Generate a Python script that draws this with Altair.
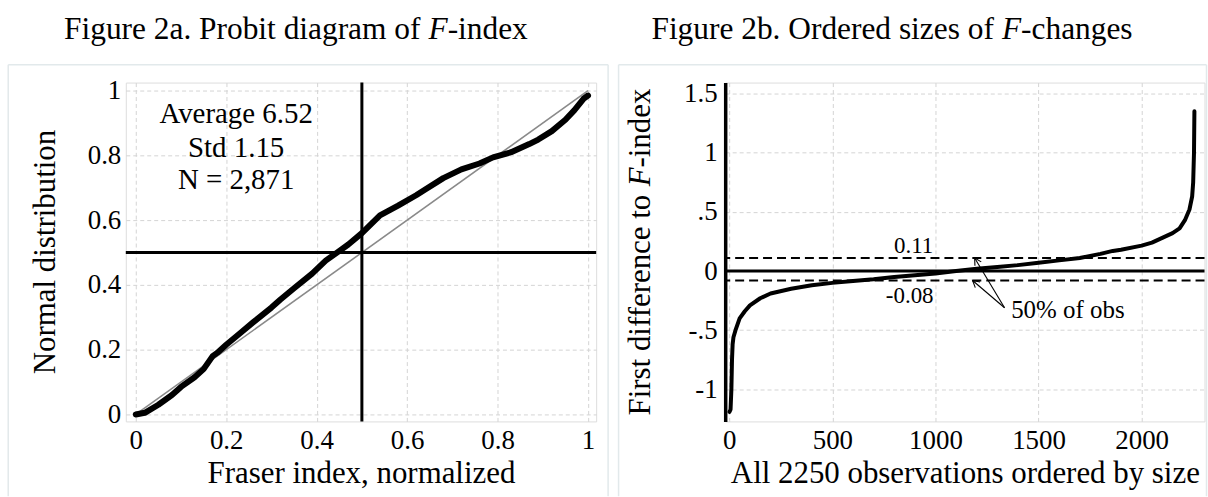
import math
import altair as alt
import pandas as pd

FONT = "Liberation Serif"

# ---------------- data: left panel (probit diagram) ----------------
probit_x = [0.0, 0.02, 0.05, 0.08, 0.10, 0.13, 0.15, 0.17, 0.18, 0.20, 0.23, 0.26, 0.30,
            0.32, 0.35, 0.39, 0.42, 0.445, 0.47, 0.50, 0.54, 0.58, 0.62, 0.64, 0.68,
            0.72, 0.76, 0.79, 0.83, 0.87, 0.89, 0.92, 0.95, 0.97, 0.99, 1.0]
probit_y = [0.0, 0.005, 0.03, 0.06, 0.085, 0.115, 0.14, 0.18, 0.19, 0.215, 0.25, 0.285, 0.33,
            0.355, 0.39, 0.435, 0.475, 0.50, 0.525, 0.56, 0.615, 0.645, 0.677, 0.695, 0.73,
            0.757, 0.775, 0.794, 0.81, 0.835, 0.849, 0.875, 0.91, 0.94, 0.975, 0.985]
diag_x = [0.0, 1.0]
diag_y = [0.0, 1.0]
left_ticks = [0, 0.2, 0.4, 0.6, 0.8, 1]
stats_text = ["Average 6.52", "Std 1.15", "N = 2,871"]
stats_x = [0.222, 0.222, 0.222]
stats_y = [0.928, 0.823, 0.723]
left_ref = [0.5]

# ---------------- data: right panel (ordered F-changes) ----------------
obs_rank = [1, 6, 10, 13, 16, 20, 30, 50, 75, 100, 150, 200, 300, 400, 500, 600, 700, 800,
            900, 1000, 1100, 1200, 1300, 1400, 1500, 1600, 1700, 1800, 1860, 1900, 2000,
            2050, 2100, 2150, 2184, 2210, 2232, 2245, 2250, 2254, 2256]
fdiff = [-1.19, -1.17, -1.0, -0.75, -0.62, -0.56, -0.50, -0.40, -0.34, -0.29, -0.23, -0.19,
         -0.15, -0.12, -0.10, -0.085, -0.07, -0.05, -0.035, -0.02, 0.0, 0.02, 0.035, 0.05,
         0.07, 0.09, 0.11, 0.145, 0.17, 0.18, 0.215, 0.24, 0.28, 0.32, 0.36, 0.43, 0.52,
         0.63, 0.75, 1.0, 1.35]
right_xticks = [0, 500, 1000, 1500, 2000]
right_yticks = [-1, -0.5, 0, 0.5, 1, 1.5]
zero_line = [0.0]
quartile_lines = [0.11, -0.08]
quart_text = ["0.11", "-0.08"]
quart_text_x = [894, 875]
quart_text_y = [0.21, -0.21]
obs_text = ["50% of obs"]
obs_text_x = [1367]
obs_text_y = [-0.33]
arrow_tail_x = [1335, 1335]
arrow_tail_y = [-0.31, -0.31]
arrow_tip_x = [1190, 1180]
arrow_tip_y = [0.11, -0.08]

# ---------------- layout ----------------
W1, W2, H = 472, 481, 340
LX_DOM, LY_DOM = [-0.022, 1.018], [-0.0215, 1.025]
RX_DOM, RY_DOM = [-20, 2305], [-1.271, 1.593]
FRAME = "#e2e9eb"

# Times/Liberation Serif advance widths (per 1000 em) for title piece placement
TNR = {'F': 556, 'i': 278, 'g': 500, 'u': 500, 'r': 333, 'e': 444, ' ': 250, '2': 500,
       'a': 444, '.': 250, 'P': 556, 'o': 500, 'b': 500, 't': 278, 'd': 500, 'm': 778,
       'f': 333, 'O': 722, 's': 389, 'z': 444, 'c': 444, 'n': 500, 'h': 500, '-': 333,
       'x': 500, 'l': 278}
F_ITALIC = 611


def tw(s, fs):
    return sum(TNR[c] for c in s) / 1000.0 * fs


one = pd.DataFrame({"k": [0]})


def txt(text, x, y, size, align="left", baseline="top", italic=False, angle=0):
    return alt.Chart(one).mark_text(
        text=text, align=align, baseline=baseline, font=FONT, fontSize=size,
        fontStyle="italic" if italic else "normal", color="black", angle=angle
    ).encode(x=alt.value(x), y=alt.value(y))


def frame(x0, x1, y0, y1):
    parts = []
    for (a, b, c, d) in [(x0, x0, y0, y1), (x1, x1, y0, y1), (x0, x1, y0, y0)]:
        parts.append(alt.Chart(one).mark_rule(color=FRAME, strokeWidth=1.5).encode(
            x=alt.value(a), x2=alt.value(b), y=alt.value(c), y2=alt.value(d)))
    return parts


def mixed_title(pre, post, x0, y, fs):
    xF = x0 + tw(pre, fs) + tw(" ", fs)
    xP = xF + F_ITALIC / 1000.0 * fs
    return [txt(pre, x0, y, fs), txt("F", xF, y, fs, italic=True), txt(post, xP, y, fs)]


axis_common = dict(grid=True, gridDash=[4, 3], gridColor="#d4d4d4", gridWidth=1,
                   domain=False, ticks=False, tickSize=0, labelFont=FONT, labelFontSize=27,
                   labelColor="black", titleFont=FONT, titleFontSize=31,
                   titleFontWeight="normal", titleColor="black", labelFlush=False,
                   labelOverlap=False)

TFS = 31.5
# ---------------- left panel ----------------
lx = alt.Scale(domain=LX_DOM, nice=False, zero=False)
ly = alt.Scale(domain=LY_DOM, nice=False, zero=False)
ax_lx = alt.Axis(values=left_ticks, format="~g", title="Fraser index, normalized",
                 labelPadding=6, titlePadding=5, **axis_common)
ax_ly = alt.Axis(values=left_ticks, format="~g", title=None, labelPadding=5, **axis_common)

curve_l = alt.Chart(pd.DataFrame({"x": probit_x, "y": probit_y})).mark_line(
    color="black", strokeWidth=6, strokeJoin="round", strokeCap="round").encode(
    x=alt.X("x:Q", scale=lx, axis=ax_lx), y=alt.Y("y:Q", scale=ly, axis=ax_ly))
diag = alt.Chart(pd.DataFrame({"x": diag_x, "y": diag_y})).mark_line(
    color="#8a8a8a", strokeWidth=1.6).encode(
    x=alt.X("x:Q", scale=lx, axis=ax_lx), y=alt.Y("y:Q", scale=ly, axis=ax_ly))
hline_l = alt.Chart(pd.DataFrame({"y": left_ref})).mark_rule(color="black", strokeWidth=3).encode(
    y=alt.Y("y:Q", scale=ly, axis=ax_ly))
vline_l = alt.Chart(pd.DataFrame({"x": left_ref})).mark_rule(color="black", strokeWidth=3).encode(
    x=alt.X("x:Q", scale=lx, axis=ax_lx))
stats = alt.Chart(pd.DataFrame({"x": stats_x, "y": stats_y, "t": stats_text})).mark_text(
    font=FONT, fontSize=29, align="center", baseline="middle", color="black").encode(
    x=alt.X("x:Q", scale=lx, axis=ax_lx), y=alt.Y("y:Q", scale=ly, axis=ax_ly), text="t:N")

left_layers = [diag, curve_l, hline_l, vline_l, stats] + frame(-118, 484, -18, 415) + mixed_title(
    "Figure 2a. Probit diagram of", "-index", -62, -69, TFS) + [
    txt("Normal distribution", -80, 170, 31, align="center", baseline="middle", angle=270)]
left = alt.layer(*left_layers).properties(width=W1, height=H)

# ---------------- right panel ----------------
rx = alt.Scale(domain=RX_DOM, nice=False, zero=False)
ry = alt.Scale(domain=RY_DOM, nice=False, zero=False)

raxis_y = dict(axis_common)
raxis_y.update(domain=True, domainColor="black", domainWidth=3.5)
ax_rx = alt.Axis(values=right_xticks, format="d", title="All 2250 observations ordered by size",
                 labelPadding=6, titlePadding=5, **axis_common)
ax_ry = alt.Axis(values=right_yticks, title=None, labelPadding=8,
                 labelExpr="(datum.value < 0 ? '-' : '') + replace(format(abs(datum.value), '~g'), '0.', '.')",
                 **raxis_y)

curve_r = alt.Chart(pd.DataFrame({"x": obs_rank, "y": fdiff})).mark_line(
    color="black", strokeWidth=4, strokeJoin="round", strokeCap="round").encode(
    x=alt.X("x:Q", scale=rx, axis=ax_rx), y=alt.Y("y:Q", scale=ry, axis=ax_ry))
zline = alt.Chart(pd.DataFrame({"y": zero_line})).mark_rule(color="black", strokeWidth=3).encode(
    y=alt.Y("y:Q", scale=ry, axis=ax_ry))
qlines = alt.Chart(pd.DataFrame({"y": quartile_lines})).mark_rule(
    color="black", strokeWidth=2, strokeDash=[9, 5]).encode(y=alt.Y("y:Q", scale=ry, axis=ax_ry))
qtext = alt.Chart(pd.DataFrame({"x": quart_text_x, "y": quart_text_y, "t": quart_text})).mark_text(
    font=FONT, fontSize=23, align="center", baseline="middle", color="black").encode(
    x=alt.X("x:Q", scale=rx, axis=ax_rx), y=alt.Y("y:Q", scale=ry, axis=ax_ry), text="t:N")
otext = alt.Chart(pd.DataFrame({"x": obs_text_x, "y": obs_text_y, "t": obs_text})).mark_text(
    font=FONT, fontSize=25, align="left", baseline="middle", color="black").encode(
    x=alt.X("x:Q", scale=rx, axis=ax_rx), y=alt.Y("y:Q", scale=ry, axis=ax_ry), text="t:N")

pxu = W2 / (RX_DOM[1] - RX_DOM[0])
pyu = H / (RY_DOM[1] - RY_DOM[0])
angles = []
for tx, ty, hx, hy in zip(arrow_tail_x, arrow_tail_y, arrow_tip_x, arrow_tip_y):
    dx = (hx - tx) * pxu
    dys = -(hy - ty) * pyu
    angles.append(math.degrees(math.atan2(dx, -dys)) % 360)
arrow_df = pd.DataFrame({"x": arrow_tail_x, "y": arrow_tail_y, "x2": arrow_tip_x,
                         "y2": arrow_tip_y, "ang": angles})
shafts = alt.Chart(arrow_df).mark_rule(color="black", strokeWidth=1.1).encode(
    x=alt.X("x:Q", scale=rx, axis=ax_rx), y=alt.Y("y:Q", scale=ry, axis=ax_ry),
    x2="x2:Q", y2="y2:Q")
heads = alt.Chart(arrow_df).mark_point(
    shape="M -0.55 1 L 0 0 L 0.55 1", filled=False, color="black", strokeWidth=1.1,
    size=180, opacity=1).encode(
    x=alt.X("x2:Q", scale=rx, axis=ax_rx), y=alt.Y("y2:Q", scale=ry, axis=ax_ry),
    angle=alt.Angle("ang:Q", scale=None))

fs_y = 31
yt_len = tw("First difference to ", fs_y) + F_ITALIC / 1000.0 * fs_y + tw("-index", fs_y)
y0 = 170 + yt_len / 2
yF = y0 - tw("First difference to ", fs_y)
yP = yF - F_ITALIC / 1000.0 * fs_y
ytitle_r = [
    txt("First difference to", -84, y0, fs_y, baseline="middle", angle=270),
    txt("F", -84, yF, fs_y, baseline="middle", italic=True, angle=270),
    txt("-index", -84, yP, fs_y, baseline="middle", angle=270),
]

right_layers = [curve_r, zline, qlines, qtext, otext, shafts, heads] + frame(-107, 483, -18, 415) + mixed_title(
    "Figure 2b. Ordered sizes of", "-changes", -74, -69, TFS) + ytitle_r
right = alt.layer(*right_layers).properties(width=W2, height=H)

chart = alt.hconcat(left, right, spacing=6.5).properties(
    padding={"left": 6.25, "right": 0, "top": 12, "bottom": 0},
    background="white"
).configure_view(strokeWidth=0).configure(font=FONT)

chart.save("out.html", embed_options={"renderer": "svg", "actions": False})
